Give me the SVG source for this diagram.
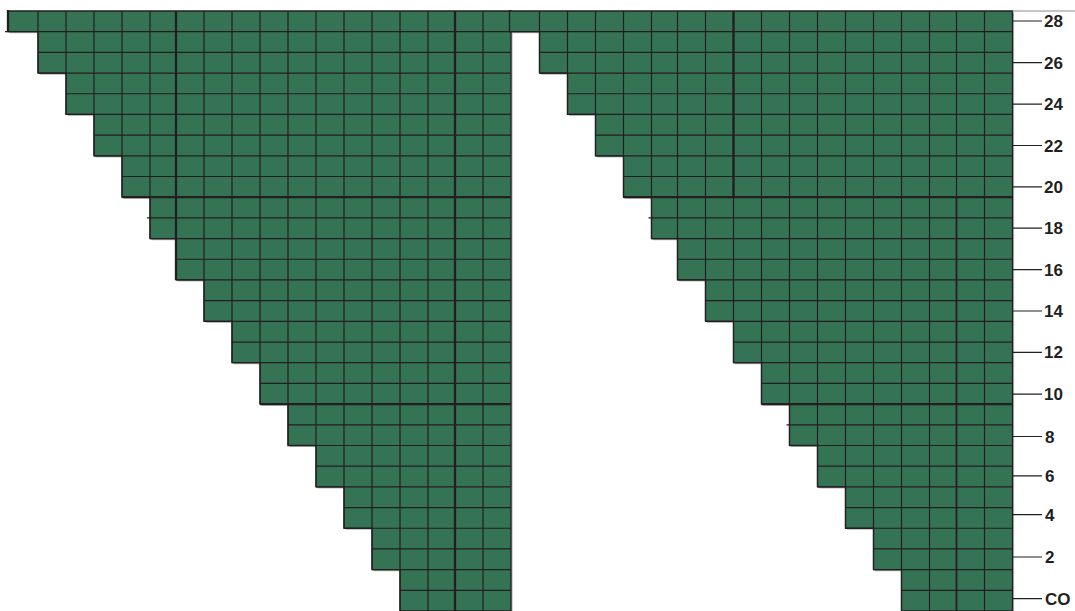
<svg xmlns="http://www.w3.org/2000/svg" xmlns:xlink="http://www.w3.org/1999/xlink" width="1075" height="611" viewBox="0 0 1075 611">
<style>
.cell{fill:#357355;stroke:#231f20;stroke-width:1.3}
.shadow{fill:#b8b8b8}
.grid{fill:none;stroke:#231f20;stroke-width:1.2}
.thick{fill:none;stroke:#231f20;stroke-width:2.3}
.tick{fill:none;stroke:#231f20;stroke-width:1.2}
.lbl{font-family:"Liberation Sans",Arial,sans-serif;font-weight:bold;font-size:17px;fill:#231f20}
</style>
<defs>
<path id="shape" d="M8 11H511V611H400V569.62H372V528.24H344V486.86H316V445.48H288V404.1H260V362.72H232V321.34H204V279.96H176V238.58H150V197.2H122V155.82H94V114.44H66V73.06H38V31.68H8Z"/>
<path id="lines" d="M8 31.68H511M38 52.37H511M38 73.06H511M66 93.75H511M66 114.44H511M94 135.13H511M94 155.82H511M122 176.51H511M122 197.2H511M150 217.89H511M150 238.58H511M176 259.27H511M176 279.96H511M204 300.65H511M204 321.34H511M232 342.03H511M232 362.72H511M260 383.41H511M260 404.1H511M288 424.79H511M288 445.48H511M316 466.17H511M316 486.86H511M344 507.55H511M344 528.24H511M372 548.93H511M372 569.62H511M400 590.31H511M38 11V73.06M66 11V114.44M94 11V155.82M122 11V197.2M150 11V238.58M176 11V279.96M204 11V321.34M232 11V362.72M260 11V404.1M288 11V445.48M316 11V486.86M344 11V528.24M372 11V569.62M400 11V611M428 11V611M455 11V611M483 11V611"/>
</defs>
<rect width="1075" height="611" fill="#ffffff"/>
<g id="shadows">
<use xlink:href="#shape" href="#shape" class="shadow" transform="translate(1.6,1.6)"/>
<use xlink:href="#shape" href="#shape" class="shadow" transform="translate(503.1,1.6)"/>
</g>
<g id="chart-left">
<use xlink:href="#shape" href="#shape" class="cell"/>
<use xlink:href="#lines" href="#lines" class="grid"/>
<path class="thick" d="M8 10V31.68M122 197.2H511M260 404.1H511M176 11V279.96M455 11V611"/>
<path class="grid" d="M5 31.68H8M147 217.89H150"/>
</g>
<g id="chart-right">
<use xlink:href="#shape" href="#shape" class="cell" transform="translate(501.5,0)"/>
<use xlink:href="#lines" href="#lines" class="grid" transform="translate(501.5,0)"/>
<path class="thick" d="M623.5 197.2H1012.5M761.5 404.1H1012.5M733.5 11V197.2"/>
<path class="grid" style="stroke-width:1.6" d="M956.5 197.2V611"/>
<path class="grid" d="M648.5 217.89H651.5M786.5 424.79H789.5"/>
</g>
<g id="labels">
<path d="M1012.5 11H1075" stroke="#8a8a8a" stroke-width="1" fill="none"/>
<path class="tick" d="M1012.5 21H1042M1012.5 62.7H1042M1012.5 104.1H1042M1012.5 145.5H1042M1012.5 186.9H1042M1012.5 228.2H1042M1012.5 269.6H1042M1012.5 311H1042M1012.5 352.4H1042M1012.5 394.2H1042M1012.5 436.5H1042M1012.5 475.8H1042M1012.5 514.6H1042M1012.5 557H1042M1012.5 598.6H1042"/>
<text class="lbl" x="1044" y="27">28</text>
<text class="lbl" x="1044" y="68.7">26</text>
<text class="lbl" x="1044" y="110.1">24</text>
<text class="lbl" x="1044" y="151.5">22</text>
<text class="lbl" x="1044" y="192.9">20</text>
<text class="lbl" x="1044" y="234.2">18</text>
<text class="lbl" x="1044" y="275.6">16</text>
<text class="lbl" x="1044" y="317">14</text>
<text class="lbl" x="1044" y="358.4">12</text>
<text class="lbl" x="1044" y="400.2">10</text>
<text class="lbl" x="1045" y="442.5">8</text>
<text class="lbl" x="1045" y="481.8">6</text>
<text class="lbl" x="1045" y="520.6">4</text>
<text class="lbl" x="1045" y="563">2</text>
<text class="lbl" x="1045" y="604.6">CO</text>
</g>
</svg>
